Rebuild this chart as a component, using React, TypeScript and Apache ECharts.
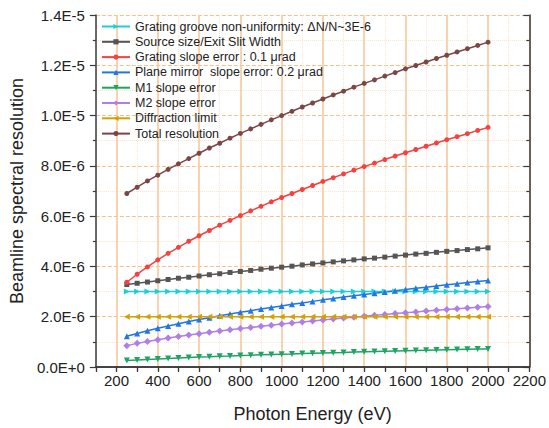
import React, { useEffect, useRef } from "react";
import * as echarts from "echarts";

// Photon energy (eV)
const energy = [250, 300, 350, 400, 450, 500, 550, 600, 650, 700, 750, 800, 850, 900, 950, 1000, 1050, 1100, 1150, 1200, 1250, 1300, 1350, 1400, 1450, 1500, 1550, 1600, 1650, 1700, 1750, 1800, 1850, 1900, 1950, 2000];

// All resolution values in units of 1E-6
const grooveNonUniformity = energy.map(() => 3.0);
const sourceSize = [3.28, 3.33, 3.38, 3.43, 3.48, 3.53, 3.57, 3.62, 3.67, 3.71, 3.76, 3.8, 3.84, 3.89, 3.93, 3.97, 4.01, 4.06, 4.1, 4.14, 4.18, 4.22, 4.26, 4.3, 4.33, 4.37, 4.41, 4.45, 4.49, 4.52, 4.56, 4.6, 4.63, 4.67, 4.7, 4.74];
const gratingSlope = [3.37, 3.69, 3.98, 4.26, 4.52, 4.76, 5.0, 5.22, 5.43, 5.64, 5.83, 6.02, 6.21, 6.39, 6.57, 6.74, 6.9, 7.06, 7.22, 7.38, 7.53, 7.68, 7.83, 7.97, 8.11, 8.25, 8.39, 8.52, 8.65, 8.78, 8.91, 9.04, 9.16, 9.28, 9.41, 9.53];
const planeMirrorSlope = [1.22, 1.33, 1.44, 1.54, 1.63, 1.72, 1.81, 1.89, 1.96, 2.04, 2.11, 2.18, 2.24, 2.31, 2.37, 2.43, 2.5, 2.55, 2.61, 2.67, 2.72, 2.78, 2.83, 2.88, 2.93, 2.98, 3.03, 3.08, 3.13, 3.17, 3.22, 3.27, 3.31, 3.36, 3.4, 3.44];
const m1Slope = [0.26, 0.28, 0.3, 0.32, 0.34, 0.36, 0.38, 0.4, 0.41, 0.43, 0.44, 0.46, 0.47, 0.49, 0.5, 0.51, 0.52, 0.54, 0.55, 0.56, 0.57, 0.58, 0.6, 0.61, 0.62, 0.63, 0.64, 0.65, 0.66, 0.67, 0.68, 0.69, 0.7, 0.71, 0.72, 0.72];
const m2Slope = [0.85, 0.94, 1.01, 1.08, 1.15, 1.21, 1.27, 1.32, 1.38, 1.43, 1.48, 1.53, 1.57, 1.62, 1.66, 1.71, 1.75, 1.79, 1.83, 1.87, 1.91, 1.95, 1.98, 2.02, 2.06, 2.09, 2.13, 2.16, 2.19, 2.23, 2.26, 2.29, 2.32, 2.35, 2.38, 2.41];
const diffractionLimit = energy.map(() => 2.0);
const totalResolution = [6.9, 7.15, 7.4, 7.63, 7.86, 8.08, 8.29, 8.5, 8.71, 8.9, 9.1, 9.29, 9.47, 9.65, 9.83, 10.0, 10.17, 10.34, 10.5, 10.66, 10.82, 10.97, 11.13, 11.28, 11.42, 11.57, 11.71, 11.86, 11.99, 12.13, 12.27, 12.4, 12.53, 12.66, 12.79, 12.92];

const seriesDefs = [
  { name: "Grating groove non-uniformity: ΔN/N~3E-6", data: grooveNonUniformity, color: "#1ccfd6", symbol: "triangle", rotate: -90, size: 6 },
  { name: "Source size/Exit Slit Width", data: sourceSize, color: "#555555", symbol: "rect", rotate: 0, size: 5 },
  { name: "Grating slope error : 0.1 μrad", data: gratingSlope, color: "#f5413f", symbol: "circle", rotate: 0, size: 5 },
  { name: "Plane mirror  slope error: 0.2 μrad", data: planeMirrorSlope, color: "#2077e3", symbol: "triangle", rotate: 0, size: 6 },
  { name: "M1 slope error", data: m1Slope, color: "#1fa463", symbol: "triangle", rotate: 180, size: 6 },
  { name: "M2 slope error", data: m2Slope, color: "#b07ee8", symbol: "diamond", rotate: 0, size: 7 },
  { name: "Diffraction limit", data: diffractionLimit, color: "#d4a008", symbol: "triangle", rotate: 90, size: 6 },
  { name: "Total resolution", data: totalResolution, color: "#7a4646", symbol: "circle", rotate: 0, size: 5 },
];

const FONT = "Liberation Sans, Arial, sans-serif";
const frame = "#3a3a3a";

export default function App() {
  const ref = useRef<HTMLDivElement>(null);
  useEffect(() => {
    if (!ref.current) return;
    const chart = echarts.init(ref.current, null, { renderer: "svg" });
    chart.setOption({
      animation: false,
      backgroundColor: "#ffffff",
      textStyle: { fontFamily: FONT },
      grid: { left: 93, right: 14, top: 15, bottom: 60 },
      legend: {
        orient: "vertical",
        left: 96,
        top: 15,
        itemWidth: 28,
        itemHeight: 6.5,
        itemGap: 2.3,
        textStyle: { fontFamily: FONT, fontSize: 12.5, color: "#222", lineHeight: 12 },
        data: seriesDefs.map((s) => s.name),
      },
      xAxis: [
        {
          type: "value",
          position: "bottom",
          min: 100,
          max: 2200,
          interval: 100,
          name: "Photon Energy (eV)",
          nameLocation: "middle",
          nameGap: 38,
          nameTextStyle: { fontFamily: FONT, fontSize: 18, color: "#222" },
          axisLine: { show: true, lineStyle: { color: frame, width: 1.5 } },
          axisTick: { show: true, inside: false, length: 5, lineStyle: { color: frame, width: 1.2 } },
          axisLabel: {
            fontFamily: FONT,
            fontSize: 15,
            color: "#222",
            margin: 6,
            formatter: (v: number) => (v % 200 === 0 ? String(v) : ""),
          },
          splitLine: { show: true, lineStyle: { color: ["rgba(0,0,0,0)", "#f8c89c"], width: 1.6, type: "solid" } },
        },
        {
          type: "value",
          position: "top",
          min: 100,
          max: 2200,
          interval: 100,
          axisLine: { show: true, lineStyle: { color: frame, width: 1.5 } },
          axisTick: { show: true, inside: true, length: 4, lineStyle: { color: frame, width: 1.2 } },
          axisLabel: { show: false },
          splitLine: { show: true, lineStyle: { color: ["#fbe3cf", "rgba(0,0,0,0)"], width: 1, type: "dotted" } },
        },
      ],
      yAxis: [
        {
          type: "value",
          position: "left",
          min: 0,
          max: 14,
          interval: 2,
          name: "Beamline spectral resolution",
          nameLocation: "middle",
          nameGap: 61,
          nameTextStyle: { fontFamily: FONT, fontSize: 18, color: "#222" },
          axisLine: { show: true, lineStyle: { color: frame, width: 1.5 } },
          axisTick: { show: true, inside: false, length: 6, lineStyle: { color: frame, width: 1.2 } },
          minorTick: { show: true, splitNumber: 2, length: 3, lineStyle: { color: frame, width: 1.2 } },
          axisLabel: {
            fontFamily: FONT,
            fontSize: 15,
            color: "#222",
            margin: 11,
            formatter: (v: number) => (v * 1e-6).toExponential(1).toUpperCase(),
          },
          splitLine: { show: true, lineStyle: { color: "#f9be8a", width: 1, type: "dashed" } },
          minorSplitLine: { show: true, lineStyle: { color: "#fbe3cf", width: 1, type: "dotted" } },
        },
        {
          type: "value",
          position: "right",
          min: 0,
          max: 14,
          interval: 2,
          axisLine: { show: true, lineStyle: { color: frame, width: 1.5 } },
          axisTick: { show: true, inside: true, length: 6, lineStyle: { color: frame, width: 1.2 } },
          minorTick: { show: true, splitNumber: 2, length: 3, lineStyle: { color: frame, width: 1.2 } },
          axisLabel: { show: false },
          splitLine: { show: false },
        },
      ],
      series: seriesDefs.map((s) => ({
        name: s.name,
        type: "line",
        xAxisIndex: 0,
        yAxisIndex: 0,
        data: energy.map((e, i) => [e, s.data[i]]),
        symbol: s.symbol,
        symbolSize: s.size,
        symbolRotate: s.rotate,
        showSymbol: true,
        itemStyle: { color: s.color },
        lineStyle: { color: s.color, width: 1.5 },
      })),
    });
    return () => chart.dispose();
  }, []);
  return <div ref={ref} style={{ width: 549, height: 428, position: "absolute", left: 0, top: 0 }} />;
}
